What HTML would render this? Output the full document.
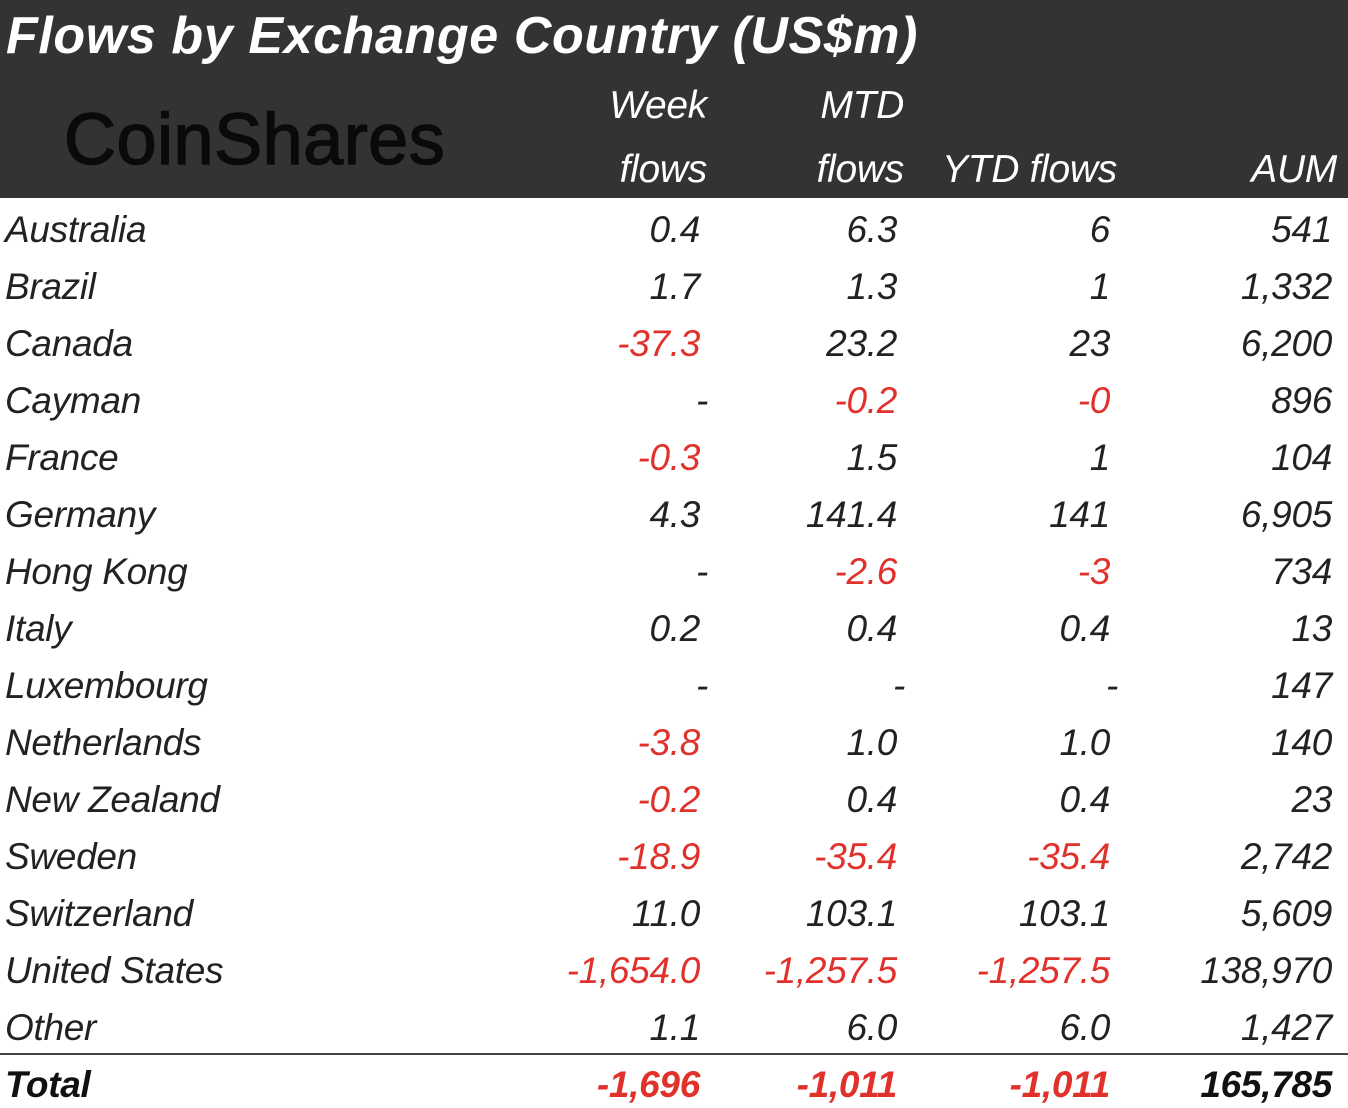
<!DOCTYPE html>
<html><head><meta charset="utf-8"><style>
body{margin:0;width:1348px;height:1108px;background:#fff;overflow:hidden;font-family:"Liberation Sans Narrow","Liberation Sans",sans-serif;position:relative}
#hdr{position:absolute;left:0;top:0;width:1348px;height:198px;background:#333}
.t{position:absolute;white-space:nowrap;font-style:italic;font-size:37px;line-height:40px;letter-spacing:-0.3px}
.r{text-align:right}
.h{color:#fff;font-size:39px}
.neg{color:#e0312b}
.pos{color:#222}
</style></head><body>
<div id="hdr"></div>
<div class="t h" style="left:6px;top:9px;font-size:52px;line-height:54px;font-weight:bold;letter-spacing:0.6px">Flows by Exchange Country (US$m)</div>
<div style="position:absolute;left:64px;top:102px;font-family:'Liberation Sans',sans-serif;font-size:72px;line-height:76px;color:#0a0a0a;letter-spacing:0.5px;-webkit-text-stroke:1.5px #0a0a0a">CoinShares</div>
<div class="t h r" style="right:641px;top:86px;width:200px">Week</div>
<div class="t h r" style="right:641px;top:150px;width:200px">flows</div>
<div class="t h r" style="right:444px;top:86px;width:200px">MTD</div>
<div class="t h r" style="right:444px;top:150px;width:200px">flows</div>
<div class="t h r" style="right:231px;top:150px;width:220px">YTD flows</div>
<div class="t h r" style="right:11px;top:150px;width:200px">AUM</div>
<div style="position:absolute;left:0;top:1053px;width:1348px;height:2px;background:#444"></div>
<script>
const countries=["Australia","Brazil","Canada","Cayman","France","Germany","Hong Kong","Italy","Luxembourg","Netherlands","New Zealand","Sweden","Switzerland","United States","Other","Total"];
const weekFlows=["0.4","1.7","-37.3","-","-0.3","4.3","-","0.2","-","-3.8","-0.2","-18.9","11.0","-1,654.0","1.1","-1,696"];
const mtdFlows=["6.3","1.3","23.2","-0.2","1.5","141.4","-2.6","0.4","-","1.0","0.4","-35.4","103.1","-1,257.5","6.0","-1,011"];
const ytdFlows=["6","1","23","-0","1","141","-3","0.4","-","1.0","0.4","-35.4","103.1","-1,257.5","6.0","-1,011"];
const aum=["541","1,332","6,200","896","104","6,905","734","13","147","140","23","2,742","5,609","138,970","1,427","165,785"];
const cols=[[weekFlows,700,"week"],[mtdFlows,897,"mtd"],[ytdFlows,1110,"ytd"],[aum,1332,"aum"]];
countries.forEach((c,i)=>{
  const y=210+i*57;const bold=i===countries.length-1;
  const d=document.createElement('div');
  d.className='t pos';d.style.left='5px';d.style.top=y+'px';
  if(bold){d.style.fontWeight='bold';d.style.color='#111';}
  d.textContent=c;
  
  
  document.body.appendChild(d);
  cols.forEach(([arr,right,nm])=>{
    const v=arr[i];const e=document.createElement('div');
    const neg=v.startsWith('-')&&v!=='-';
    e.className='t r '+(neg?'neg':'pos');
    e.style.right=(1348-right-(v==='-'?8:0))+'px';e.style.top=y+'px';
    if(bold){e.style.fontWeight='bold';if(!neg)e.style.color='#111';}
    e.textContent=v;
    
    
    document.body.appendChild(e);
  });
});
</script>
</body></html>
